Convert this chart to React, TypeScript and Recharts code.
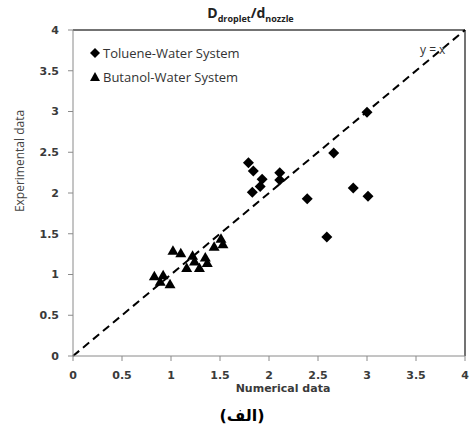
import { ScatterChart, Scatter, XAxis, YAxis, ReferenceLine } from 'recharts';

const tolueneX = [1.79, 1.84, 1.93, 1.91, 1.83, 2.11, 2.11, 2.39, 2.59, 2.66, 2.86, 3.0, 3.01];
const tolueneY = [2.37, 2.27, 2.17, 2.08, 2.01, 2.25, 2.16, 1.93, 1.46, 2.49, 2.06, 2.99, 1.96];

const butanolX = [0.83, 0.92, 0.89, 0.99, 1.02, 1.1, 1.22, 1.24, 1.16, 1.29, 1.35, 1.37, 1.44, 1.51, 1.53];
const butanolY = [0.98, 0.99, 0.91, 0.88, 1.29, 1.26, 1.23, 1.16, 1.08, 1.08, 1.21, 1.14, 1.34, 1.44, 1.37];

const ticks = [0, 0.5, 1, 1.5, 2, 2.5, 3, 3.5, 4];

const toluene = tolueneX.map((x, i) => ({ x, y: tolueneY[i] }));
const butanol = butanolX.map((x, i) => ({ x, y: butanolY[i] }));

const tickStyle = { fontFamily: 'DejaVu Sans', fontSize: 11, fontWeight: 'bold', fill: '#3a3a3a' };

function Diamond(props: any) {
  const { cx, cy } = props;
  const r = 5.5;
  return <polygon points={`${cx},${cy - r} ${cx + r},${cy} ${cx},${cy + r} ${cx - r},${cy}`} fill="#000" />;
}

function Triangle(props: any) {
  const { cx, cy } = props;
  return <polygon points={`${cx},${cy - 5.5} ${cx + 5.5},${cy + 4} ${cx - 5.5},${cy + 4}`} fill="#000" />;
}

export default function App() {
  return (
    <div style={{ position: 'absolute', left: 0, top: 0, width: 471, height: 430, background: '#fff' }}>
      <ScatterChart width={471} height={430} margin={{ top: 30, right: 6, bottom: 0, left: 0 }}>
        <XAxis
          type="number"
          dataKey="x"
          domain={[0, 4]}
          ticks={ticks}
          height={74}
          tickSize={5}
          tickMargin={10}
          tick={tickStyle}
          stroke="#8a8a8a"
          interval={0}
        />
        <YAxis
          type="number"
          dataKey="y"
          domain={[0, 4]}
          ticks={ticks}
          width={73}
          tickSize={5}
          tickMargin={9}
          tick={tickStyle}
          stroke="#8a8a8a"
          interval={0}
        />
        <ReferenceLine y={4} stroke="#444" strokeWidth={1.5} />
        <ReferenceLine x={4} stroke="#444" strokeWidth={1.5} />
        <ReferenceLine
          segment={[{ x: 0, y: 0 }, { x: 4, y: 4 }]}
          stroke="#000"
          strokeWidth={2}
          strokeDasharray="8 5"
        />
        <Scatter data={toluene} shape={Diamond} isAnimationActive={false} />
        <Scatter data={butanol} shape={Triangle} isAnimationActive={false} />
      </ScatterChart>

      <div style={{ position: 'absolute', left: 0, width: 471, top: 4, textAlign: 'center', paddingLeft: 30, boxSizing: 'border-box', fontFamily: 'Open Sans', fontWeight: 'bold', fontSize: 14, color: '#222', lineHeight: '18px' }}>
        D<sub style={{ fontSize: 9 }}>droplet</sub>/d<sub style={{ fontSize: 9 }}>nozzle</sub>
      </div>

      <div style={{ position: 'absolute', left: 89, top: 41, fontFamily: 'Open Sans', fontSize: 13, color: '#333', lineHeight: '24px' }}>
        <div style={{ display: 'flex', alignItems: 'center' }}>
          <svg width={12} height={12} style={{ marginRight: 2 }}>
            <polygon points="6,1 11,6 6,11 1,6" fill="#000" />
          </svg>
          Toluene-Water System
        </div>
        <div style={{ display: 'flex', alignItems: 'center' }}>
          <svg width={12} height={12} style={{ marginRight: 2 }}>
            <polygon points="6,1 11,10 1,10" fill="#000" />
          </svg>
          Butanol-Water System
        </div>
      </div>

      <div style={{ position: 'absolute', left: 420, top: 41, fontFamily: 'Open Sans', fontSize: 12, color: '#333', lineHeight: '18px' }}>
        y = x
      </div>

      <div style={{ position: 'absolute', left: 20, top: 161, width: 0, height: 0 }}>
        <div style={{ position: 'absolute', transform: 'translate(-50%, -50%) rotate(-90deg)', whiteSpace: 'nowrap', fontFamily: 'Open Sans', fontSize: 12, color: '#444', lineHeight: '14px' }}>
          Experimental data
        </div>
      </div>

      <div style={{ position: 'absolute', left: 233, width: 100, top: 383, textAlign: 'center', whiteSpace: 'nowrap', fontFamily: 'DejaVu Sans', fontWeight: 'bold', fontSize: 11, color: '#3a3a3a', lineHeight: '12px' }}>
        Numerical data
      </div>

      <div style={{ position: 'absolute', left: 192, width: 100, top: 405, textAlign: 'center', fontFamily: 'DejaVu Sans', fontWeight: 'bold', fontSize: 16, color: '#000', lineHeight: '22px' }}>
        (الف)
      </div>
    </div>
  );
}
